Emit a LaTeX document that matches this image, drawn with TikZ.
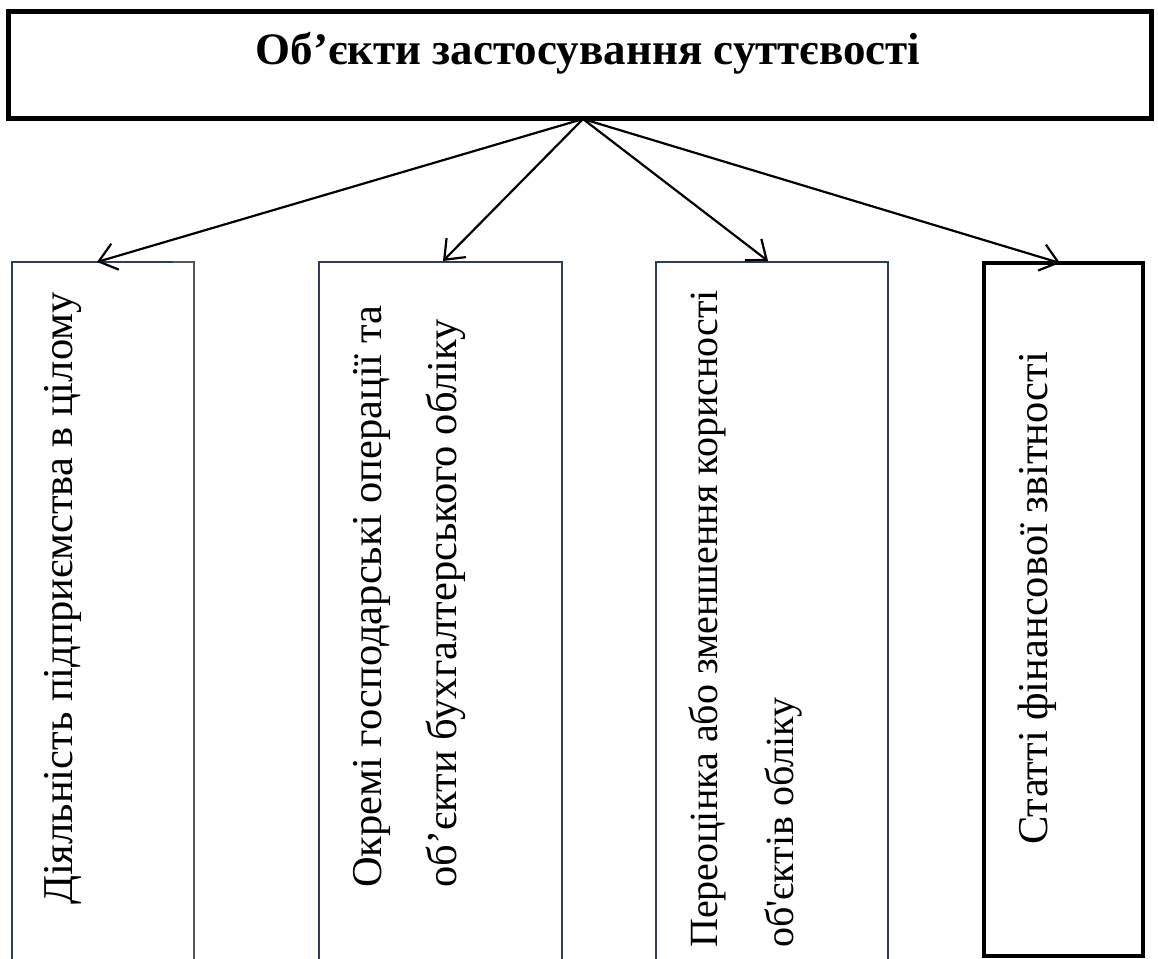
\documentclass[tikz,border=0pt]{standalone}
\usepackage{fontspec}
\setmainfont{Liberation Serif}
\newfontfamily\vserif{Liberation Serif}
\usetikzlibrary{arrows.meta}
\definecolor{navy}{RGB}{45,62,92}
\definecolor{edgegray}{RGB}{85,85,85}
\begin{document}
\begin{tikzpicture}[x=1pt,y=-1pt,
  frame/.style={draw=navy, line width=2.5pt},
  thinframe/.style={draw=edgegray, line width=1.3pt},
  arr/.style={-{Straight Barb[length=17pt,width=27pt,line width=2.2pt]}, line width=2.2pt},
  vtext/.style={rotate=90, anchor=base west, inner sep=0pt, font=\vserif\fontsize{42.5}{50}\selectfont},
  vsmall/.style={vtext, font=\vserif\fontsize{40}{48}\selectfont},
  titletext/.style={anchor=base, inner sep=0pt, font=\vserif\fontsize{45}{54}\selectfont\bfseries}
]
\useasboundingbox (0,0) rectangle (1158,958);
\clip (0,0) rectangle (1158,958);
% top box
\node[draw, line width=5pt, minimum width=1143pt, minimum height=106pt, inner sep=0pt] (top) at (579.5,65) {};
\node[titletext] (title) at (588,64) {Об’єкти застосування суттєвості};
\coordinate (hub) at (583,119);
% box 1
\draw[frame] (12,970) -- (12,262) -- (173,262);
\draw[thinframe] (173,262) -- (194,262) -- (194,970);
\coordinate (t1) at (97,262);
% box 2
\draw[frame] (319,970) -- (319,262) -- (562,262) -- (562,970);
\coordinate (t2) at (443,261);
% box 3
\draw[frame] (656,970) -- (656,262) -- (888,262) -- (888,970);
\coordinate (t3) at (768,261);
% box 4
\draw[line width=3.5pt] (984,263) rectangle (1143,956);
\coordinate (t4) at (1060,263);
% arrows
\draw[arr] (hub) -- (t1);
\draw[arr] (hub) -- (t2);
\draw[arr] (hub) -- (t3);
\draw[arr] (hub) -- (t4);
% texts
\node[vtext] (b1) at (72,905) {Діяльність підприємства в цілому};
\node[vtext] (b2a) at (381,888) {Окремі господарські операції та};
\node[vtext] (b2b) at (456,888) {об’єкти бухгалтерського обліку};
\node[vsmall] (b3a) at (717,948) {Переоцінка або зменшення корисності};
\node[vsmall] (b3b) at (793,948) {об\textquotesingle єктів обліку};
\node[vtext] (b4) at (1047,845) {Статті фінансової звітності};
\end{tikzpicture}
\end{document}
